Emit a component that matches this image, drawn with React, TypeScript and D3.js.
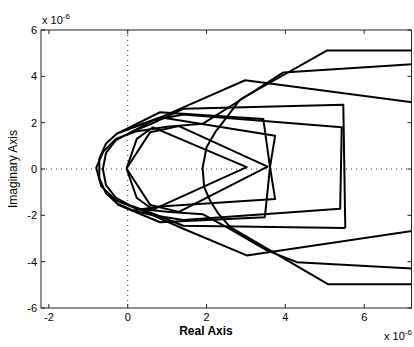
import React from "react";
import * as d3 from "d3";

// Axis limits and tick labels (values in units of 1e-6)
const xDomain: [number, number] = [-2.2, 7.2];
const yDomain: [number, number] = [-6, 6];
const xTicks = [-2, 0, 2, 4, 6];
const yTicks = [-6, -4, -2, 0, 2, 4, 6];

// Locus branches, traced as [real, imag] vertex lists
const branchA: [number, number][] = [
  [7.5, 5.12], [5.05, 5.11], [2.85, 3.0], [2.51, 2.23], [2.22, 1.59], [2.0, 0.94],
  [1.9, 0.05], [1.94, -0.78], [2.09, -1.36], [2.3, -1.93], [2.6, -2.51],
  [5.09, -4.98], [7.5, -4.98],
];
const branchB: [number, number][] = [
  [7.5, 4.55], [3.95, 4.17], [2.77, 2.88], [1.9, 1.95], [1.0, 1.82], [0.2, 1.62],
  [-0.3, 1.3], [-0.62, 0.75], [-0.8, 0.05], [-0.67, -0.75], [-0.3, -1.35],
  [0.2, -1.7], [1.0, -1.85], [1.9, -1.95], [2.6, -2.6], [3.53, -3.51],
  [4.29, -4.02], [7.5, -4.32],
];
const branchC: [number, number][] = [
  [7.5, 2.82], [2.98, 3.83], [1.41, 2.66], [0.82, 2.22], [0.13, 1.79],
  [-0.27, 1.53], [-0.55, 1.1], [-0.72, 0.45], [-0.72, -0.4], [-0.55, -1.05],
  [-0.27, -1.49], [0.13, -1.79], [0.64, -2.0], [1.41, -2.58], [3.02, -3.73],
  [7.5, -2.6],
];
const branchD: [number, number][] = [
  [5.52, -2.55], [5.47, 2.77], [1.41, 2.6], [0.6, 1.95], [0.1, 1.6], [-0.3, 1.25],
  [-0.55, 0.7], [-0.63, 0.0], [-0.55, -0.7], [-0.3, -1.25], [0.1, -1.6],
  [0.6, -1.9], [1.41, -2.45], [5.52, -2.55],
];
const branchE: [number, number][] = [
  [0.1, 1.6], [0.65, 2.1], [1.41, 2.35], [5.43, 1.8], [5.39, -1.72],
  [1.41, -2.2], [0.65, -2.0], [0.1, -1.6],
];
const branchF: [number, number][] = [
  [-0.27, 1.53], [0.82, 2.45], [3.44, 2.16], [3.61, 0.08], [3.74, -1.3],
  [0.82, -1.62], [0.13, -1.79],
];
const branchG: [number, number][] = [
  [0.13, 1.79], [0.82, 2.23], [3.74, 1.44], [3.61, 0.08], [3.48, -2.08],
  [0.82, -2.3], [-0.27, -1.53],
];
const branchH: [number, number][] = [
  [-0.03, 0.02], [0.23, 1.3], [0.64, 1.8], [3.02, 0.08], [0.64, -1.75],
  [0.23, -1.25], [-0.03, 0.02],
];
const branchK: [number, number][] = [
  [-0.03, 0.02], [0.57, 1.59], [1.3, 1.85], [3.55, 0.1], [1.3, -1.85],
  [0.57, -1.55], [-0.03, 0.02],
];

const branches = [branchA, branchB, branchC, branchD, branchE, branchF, branchG, branchH, branchK];

const W = 414;
const H = 347;
const plot = { left: 41, right: 411.5, top: 30, bottom: 308 };

export default function App() {
  const x = d3.scaleLinear().domain(xDomain).range([plot.left, plot.right]);
  const y = d3.scaleLinear().domain(yDomain).range([plot.bottom, plot.top]);
  const line = d3
    .line<[number, number]>()
    .x((d) => x(d[0]))
    .y((d) => y(d[1]));
  const font = "'Liberation Sans', Arial, Helvetica, sans-serif";
  const tickLen = 4;

  return (
    <svg
      width={W}
      height={H}
      style={{ position: "absolute", left: 0, top: 0, background: "#fff" }}
      fontFamily={font}
    >
      <defs>
        <clipPath id="plotClip">
          <rect x={plot.left} y={plot.top} width={plot.right - plot.left} height={plot.bottom - plot.top} />
        </clipPath>
      </defs>

      {/* dotted zero lines */}
      <line x1={x(0)} x2={x(0)} y1={plot.top} y2={plot.bottom} stroke="#333" strokeWidth={1} strokeDasharray="1,4" />
      <line x1={plot.left} x2={plot.right} y1={y(0)} y2={y(0)} stroke="#333" strokeWidth={1} strokeDasharray="1,4" />

      {/* loci */}
      <g clipPath="url(#plotClip)" fill="none" stroke="#000" strokeWidth={2} strokeLinejoin="round">
        {branches.map((b, i) => (
          <path key={i} d={line(b) ?? ""} />
        ))}
      </g>

      {/* axes box */}
      <rect
        x={plot.left}
        y={plot.top}
        width={plot.right - plot.left}
        height={plot.bottom - plot.top}
        fill="none"
        stroke="#222"
        strokeWidth={1}
      />

      {/* ticks */}
      {xTicks.map((t) => (
        <g key={"xt" + t}>
          <line x1={x(t)} x2={x(t)} y1={plot.bottom} y2={plot.bottom - tickLen} stroke="#222" />
          <line x1={x(t)} x2={x(t)} y1={plot.top} y2={plot.top + tickLen} stroke="#222" />
          <text x={x(t)} y={plot.bottom + 13} fontSize={11} textAnchor="middle">
            {t}
          </text>
        </g>
      ))}
      {yTicks.map((t) => (
        <g key={"yt" + t}>
          <line x1={plot.left} x2={plot.left + tickLen} y1={y(t)} y2={y(t)} stroke="#222" />
          <line x1={plot.right} x2={plot.right - tickLen} y1={y(t)} y2={y(t)} stroke="#222" />
          <text x={plot.left - 4} y={y(t) + 4} fontSize={11} textAnchor="end">
            {t}
          </text>
        </g>
      ))}

      {/* exponent labels */}
      <text x={42} y={24} fontSize={11}>
        x 10<tspan dy={-5} fontSize={8}>-6</tspan>
      </text>
      <text x={384} y={340} fontSize={11}>
        x 10<tspan dy={-5} fontSize={8}>-6</tspan>
      </text>

      {/* axis titles */}
      <text x={206} y={335} fontSize={12} fontWeight="bold" textAnchor="middle">
        Real Axis
      </text>
      <text
        transform={`translate(17, ${y(0)}) rotate(-90)`}
        fontSize={12}
        textAnchor="middle"
      >
        Imaginary Axis
      </text>
    </svg>
  );
}
